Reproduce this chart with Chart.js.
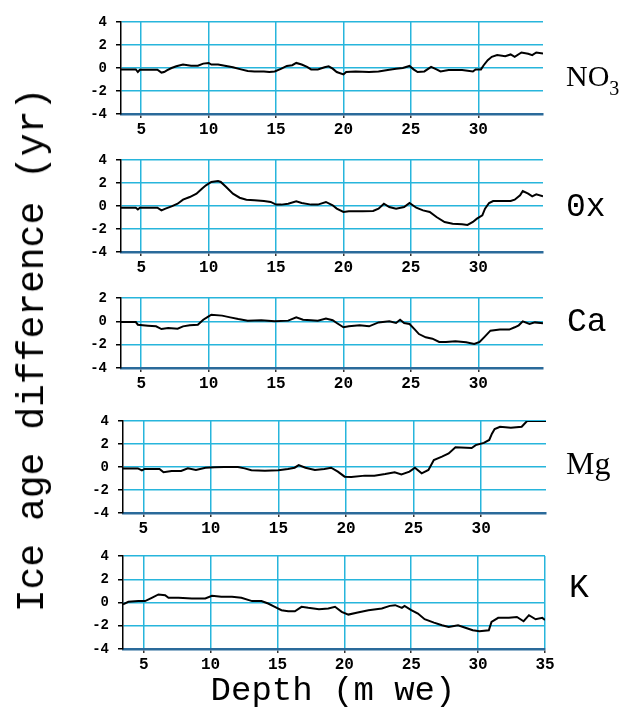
<!DOCTYPE html>
<html><head><meta charset="utf-8">
<script src="https://cdn.jsdelivr.net/npm/chart.js@4/dist/chart.umd.min.js"></script>
<style>
html,body{margin:0;padding:0;background:#fff;}
#wrap{position:relative;width:624px;height:713px;overflow:hidden;background:#fff;}
canvas{position:absolute;left:0;top:0;}
.lab{position:absolute;white-space:nowrap;color:#000;line-height:1;transform:translate(0,-50%);}
.mono{font-family:"Liberation Mono","DejaVu Sans Mono",monospace;}
.serif{font-family:"Liberation Serif","DejaVu Serif",serif;}
</style></head><body>
<div id="wrap">
<canvas id="c0" width="624" height="713"></canvas>
<canvas id="c1" width="624" height="713"></canvas>
<canvas id="c2" width="624" height="713"></canvas>
<canvas id="c3" width="624" height="713"></canvas>
<canvas id="c4" width="624" height="713"></canvas>
<div class="lab mono" style="left:33px;top:350px;font-size:38px;transform:translate(-50%,-50%) rotate(-90deg);">Ice age difference (yr)</div>
<div class="lab mono" style="left:333px;top:691px;font-size:34px;transform:translate(-50%,-50%);">Depth (m we)</div>
<div class="lab serif" style="left:566px;top:76px;font-size:30px;">NO<span style="font-size:20px;position:relative;top:9px;">3</span></div>
<div class="lab mono" style="left:566px;top:207px;font-size:33px;">0x</div>
<div class="lab mono" style="left:567px;top:322px;font-size:33px;">Ca</div>
<div class="lab serif" style="left:566px;top:463px;font-size:32px;">Mg</div>
<div class="lab mono" style="left:569px;top:588px;font-size:33px;">K</div>
</div>
<script>
const xTicks = [5, 10, 15, 20, 25, 30, 35];
const yTicks = [-4, -2, 0, 2, 4];

const no3Depth = [3.5,4.6,4.75,4.9,6.2,6.5,6.7,6.9,7.25,7.6,8.1,8.7,9.2,9.6,10.0,10.2,10.7,11.2,11.8,12.4,12.9,13.4,14.1,14.5,14.9,15.4,15.8,16.2,16.5,16.9,17.3,17.6,18.1,18.6,18.9,19.2,19.5,20.0,20.2,20.9,21.9,22.6,23.4,23.9,24.4,24.9,25.2,25.5,26.0,26.5,26.9,27.2,27.8,28.8,29.6,29.8,30.2,30.4,30.7,31.0,31.4,32.0,32.4,32.7,33.2,33.7,34.0,34.3,34.8];
const no3Values = [-0.12,-0.12,-0.35,-0.15,-0.15,-0.4,-0.35,-0.2,0,0.15,0.3,0.2,0.2,0.38,0.44,0.3,0.3,0.2,0.06,-0.12,-0.26,-0.3,-0.3,-0.35,-0.3,-0.06,0.18,0.24,0.44,0.3,0.1,-0.12,-0.12,0.06,0.15,-0.06,-0.35,-0.56,-0.35,-0.3,-0.35,-0.3,-0.15,-0.06,0,0.18,-0.12,-0.35,-0.3,0.1,-0.12,-0.3,-0.18,-0.18,-0.3,-0.12,-0.12,0.24,0.68,0.97,1.12,1.03,1.18,0.97,1.35,1.24,1.12,1.35,1.26];

const oxDepth = [3.5,4.6,4.75,4.9,6.2,6.5,6.8,7.25,7.7,8.1,8.6,9.1,9.5,9.8,10.2,10.7,10.9,11.3,11.8,12.3,12.8,13.4,14.1,14.6,15.0,15.4,15.9,16.5,16.9,17.6,18.1,18.7,19.2,19.5,20.0,20.4,21.4,22.2,22.6,23.0,23.4,23.9,24.5,24.9,25.4,25.9,26.4,26.9,27.5,28.1,28.8,29.2,29.6,29.9,30.3,30.5,30.8,31.1,31.8,32.4,32.7,33.1,33.3,33.7,34.0,34.3,34.8];
const oxValues = [-0.15,-0.15,-0.3,-0.15,-0.15,-0.38,-0.23,-0.03,0.2,0.55,0.78,1.07,1.5,1.8,2.09,2.17,2.09,1.65,1.07,0.72,0.55,0.49,0.43,0.35,0.12,0.12,0.2,0.4,0.26,0.12,0.12,0.35,0.06,-0.23,-0.52,-0.46,-0.46,-0.43,-0.23,0.2,-0.09,-0.23,-0.09,0.26,-0.15,-0.38,-0.52,-0.96,-1.39,-1.54,-1.59,-1.65,-1.39,-1.1,-0.81,-0.23,0.26,0.43,0.43,0.43,0.55,0.93,1.3,1.07,0.84,1.01,0.84];

const caDepth = [3.5,4.6,4.75,5.5,6.1,6.5,7.0,7.7,8.1,8.6,9.2,9.6,10.0,10.2,11.0,11.6,12.2,12.9,13.9,14.9,15.9,16.5,17.0,17.6,18.1,18.7,19.2,19.5,20.0,20.4,21.2,21.9,22.6,23.4,23.9,24.2,24.5,24.9,25.3,25.6,26.1,26.6,27.1,27.6,28.3,29.1,29.7,30.1,30.5,30.9,31.6,32.3,32.7,33.0,33.3,33.8,34.2,34.8];
const caValues = [-0.06,-0.06,-0.29,-0.37,-0.43,-0.66,-0.57,-0.63,-0.43,-0.34,-0.29,0.14,0.43,0.57,0.49,0.34,0.2,0.06,0.09,0,0.06,0.34,0.14,0.09,0.06,0.23,0.09,-0.14,-0.51,-0.43,-0.34,-0.43,-0.09,0,-0.14,0.14,-0.14,-0.23,-0.71,-1.09,-1.37,-1.49,-1.77,-1.77,-1.71,-1.8,-1.94,-1.77,-1.29,-0.8,-0.71,-0.71,-0.51,-0.34,0,-0.23,-0.09,-0.17];

const mgDepth = [3.5,4.6,4.9,5.1,6.2,6.5,7.1,7.8,8.3,8.9,9.6,10.3,11.0,12.0,12.5,13.0,14.0,15.0,15.7,16.2,16.5,17.0,17.7,18.4,18.9,19.4,19.9,20.4,21.4,22.1,22.9,23.6,24.1,24.7,25.1,25.6,26.1,26.5,27.1,27.6,28.1,29.3,29.6,30.2,30.6,30.8,31.0,31.4,32.2,33.0,33.4,34.8];
const mgValues = [-0.12,-0.12,-0.29,-0.17,-0.17,-0.46,-0.35,-0.35,-0.12,-0.26,-0.06,-0.03,0,0,-0.12,-0.29,-0.32,-0.29,-0.17,-0.06,0.17,-0.06,-0.26,-0.17,-0.06,-0.4,-0.84,-0.87,-0.75,-0.75,-0.61,-0.46,-0.64,-0.4,-0.06,-0.55,-0.26,0.61,0.9,1.18,1.71,1.65,1.9,2.1,2.35,2.9,3.3,3.5,3.41,3.5,4.0,4.0];

const kDepth = [3.45,3.85,4.6,5.1,5.6,6.1,6.6,6.85,7.6,8.6,9.6,10.1,10.8,11.6,12.3,13.1,13.8,14.3,14.8,15.3,15.8,16.3,16.8,17.3,18.1,18.8,19.3,19.8,20.3,21.0,21.8,22.8,23.4,23.8,24.3,24.5,25.0,25.5,26.0,26.7,27.3,27.8,28.5,29.1,29.6,30.1,30.8,31.0,31.5,32.3,32.9,33.4,33.8,34.3,34.8,35.0];
const kValues = [-0.17,0.06,0.12,0.12,0.4,0.69,0.63,0.4,0.4,0.35,0.35,0.58,0.49,0.49,0.4,0.12,0.12,-0.09,-0.37,-0.66,-0.75,-0.75,-0.37,-0.46,-0.58,-0.52,-0.37,-0.81,-1.04,-0.86,-0.66,-0.52,-0.29,-0.23,-0.46,-0.29,-0.66,-0.95,-1.44,-1.73,-1.96,-2.1,-1.96,-2.19,-2.39,-2.47,-2.39,-1.67,-1.32,-1.32,-1.24,-1.61,-1.09,-1.44,-1.32,-1.5];

const GRID = '#27b5dc';
const XH = 30;
const W = 624, H = 713;
const tickFontX = {family:'Liberation Mono', weight:'bold', size:16};
const tickFontY = {family:'Liberation Mono', weight:'bold', size:14};

function makeChart(id, depth, values, xMin, xMax, yMax, box){
  const pts = depth.map((d,i)=>({x:d, y:values[i]}));
  return new Chart(document.getElementById(id), {
    type:'line',
    data:{datasets:[{data:pts, borderColor:'#000', borderWidth:2, pointRadius:0, tension:0, fill:false}]},
    options:{
      responsive:false, animation:false, devicePixelRatio:1,
      layout:{padding:{left:0, right:W-box.r, top:box.t, bottom:H-box.b-XH}},
      plugins:{legend:{display:false}, tooltip:{enabled:false}, title:{display:false}},
      scales:{
        x:{type:'linear', min:xMin, max:xMax,
          afterFit(s){ s.height = XH; },
          afterBuildTicks(s){ s.ticks = xTicks.filter(v=>v>=xMin && v<=xMax).map(v=>({value:v})); },
          ticks:{font:tickFontX, color:'#000', padding:2, maxRotation:0, autoSkip:false},
          grid:{color:GRID, lineWidth:1.5, tickColor:'#333', tickLength:4},
          border:{color:'#2a6a9a', width:2.5}},
        y:{type:'linear', min:-4, max:yMax,
          afterFit(s){ s.width = box.l; },
          afterBuildTicks(s){ s.ticks = yTicks.filter(v=>v<=yMax).map(v=>({value:v})); },
          ticks:{font:tickFontY, color:'#000', padding:9},
          grid:{color:GRID, lineWidth:1.5, tickColor:'#000', tickLength:5},
          border:{color:'#000', width:1.5}}
      }
    }
  });
}

makeChart('c0', no3Depth, no3Values, 3.5, 34.8, 4, {l:121, r:543, t:22, b:114});
makeChart('c1', oxDepth, oxValues, 3.5, 34.8, 4, {l:121, r:543, t:160, b:252});
makeChart('c2', caDepth, caValues, 3.5, 34.8, 2, {l:121, r:543, t:298, b:368});
makeChart('c3', mgDepth, mgValues, 3.5, 34.8, 4, {l:123, r:546, t:421, b:513});
makeChart('c4', kDepth, kValues, 3.45, 35, 4, {l:123, r:545, t:556, b:649});
</script>
</body></html>
